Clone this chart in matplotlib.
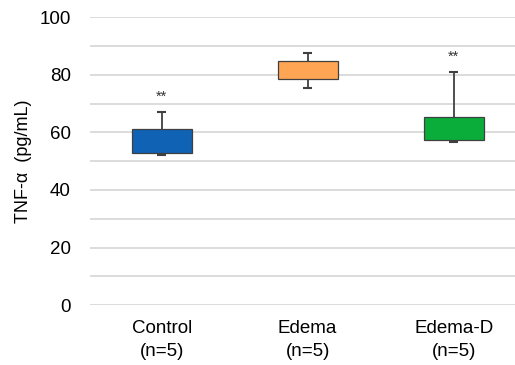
import numpy as np
import matplotlib.pyplot as plt

plt.rcParams['font.family'] = ['Liberation Sans', 'DejaVu Sans']

groups = ['Control\n(n=5)', 'Edema\n(n=5)', 'Edema-D\n(n=5)']
q1 = [53.0, 78.5, 57.2]
q3 = [61.0, 84.8, 65.3]
lo = [52.2, 75.5, 56.5]
hi = [67.0, 87.5, 80.8]
stars = ['**', '', '**']
colors = ['#0F62B4', '#FFA553', '#0BAD3A']

fig = plt.figure(figsize=(5.15, 3.65), dpi=100)
ax = fig.add_axes([0.175, 0.164, 0.825, 0.789])

x = np.arange(len(groups))
ax.set_yticks(np.arange(0, 101, 10), minor=True)
ax.grid(True, axis='y', which='both', color='#d9d9d9', linewidth=1.3, zorder=0)

ax.vlines(x, q3, hi, color='#404040', linewidth=1.3, zorder=2)
ax.vlines(x, lo, q1, color='#404040', linewidth=1.3, zorder=2)
ax.hlines(hi, x - 0.03, x + 0.03, color='#404040', linewidth=1.5, zorder=2)
ax.hlines(lo, x - 0.03, x + 0.03, color='#404040', linewidth=1.5, zorder=2)
ax.bar(x, np.array(q3) - np.array(q1), bottom=q1, width=0.41,
       color=colors, edgecolor='#404040', linewidth=0.9, zorder=3)

for xi, h, s in zip(x, hi, stars):
    if s:
        ax.text(xi, h + 5.5, s, ha='center', va='center', fontsize=10.5, color='#333333')

ax.set_xlim(-0.49, 2.42)
ax.set_ylim(0, 100)
ax.set_yticks(np.arange(0, 101, 20))
ax.set_xticks(x)
ax.set_xticklabels(groups, fontsize=13.5, linespacing=1.4)
ax.tick_params(axis='y', labelsize=13.5, length=0, pad=14)
ax.tick_params(axis='y', which='minor', length=0)
ax.tick_params(axis='x', length=0, pad=11)
ax.set_ylabel('TNF-α  (pg/mL)', fontsize=13)
ax.yaxis.set_label_coords(-0.136, 0.5)
for sp in ax.spines.values():
    sp.set_visible(False)

fig.savefig('out.png', dpi=100)
